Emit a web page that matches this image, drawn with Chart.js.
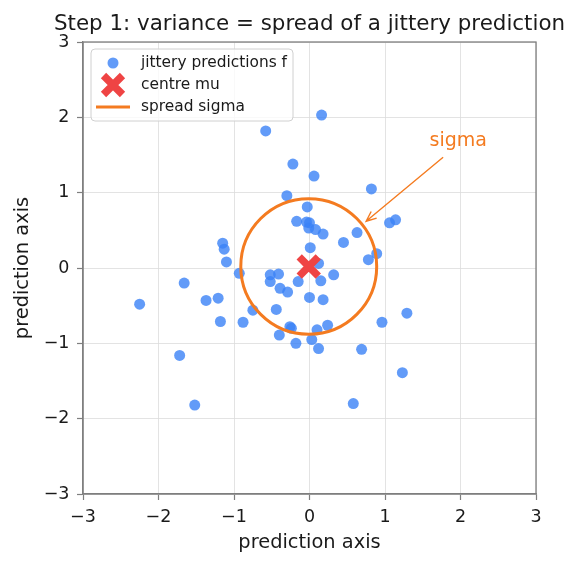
<!DOCTYPE html>
<html>
<head>
<meta charset="utf-8">
<script src="https://cdn.jsdelivr.net/npm/chart.js@4/dist/chart.umd.min.js"></script>
<style>
  html, body { margin: 0; padding: 0; background: #fff; }
  #wrap { width: 578px; height: 567px; }
</style>
</head>
<body>
<div id="wrap"><canvas id="chart" width="578" height="567"></canvas></div>
<script>
// jittery predictions
const predX = [0.16, -0.58, -0.22, 0.06, 0.82, -0.30, -0.03, -0.17, -0.04, 0.00,
  -0.01, 0.08, 0.18, 0.63, 0.45, 1.06, 1.14, 0.89, 0.78, 0.01,
  -1.15, -1.13, -1.10, -0.93, -0.52, -0.41, -0.52, -0.15, 0.12, 0.15,
  0.32, -1.66, -2.25, -1.37, -1.21, -0.75, -0.44, -0.39, -0.29, 0.00,
  0.18, -1.18, -0.88, -0.26, -0.24, -0.40, -0.18, 0.03, 0.10, 0.24,
  0.12, 0.69, 0.96, 1.29, 1.23, 0.58, -1.72, -1.52];
const predY = [2.03, 1.82, 1.38, 1.22, 1.05, 0.96, 0.81, 0.62, 0.61, 0.60,
  0.53, 0.51, 0.45, 0.47, 0.34, 0.60, 0.64, 0.19, 0.11, 0.27,
  0.33, 0.25, 0.08, -0.07, -0.09, -0.08, -0.18, -0.18, 0.06, -0.17,
  -0.09, -0.20, -0.48, -0.43, -0.40, -0.56, -0.55, -0.27, -0.32, -0.39,
  -0.42, -0.71, -0.72, -0.78, -0.80, -0.89, -1.00, -0.95, -0.82, -0.76,
  -1.07, -1.08, -0.72, -0.60, -1.39, -1.80, -1.16, -1.82];
const centreMu = [-0.01, 0.02];
const spreadSigma = 0.9;
const tickValues = [-3, -2, -1, 0, 1, 2, 3];
const titleText = "Step 1: variance = spread of a jittery prediction";
const sigmaText = "sigma";
const sigmaTextAt = [1.97, 1.68];
const sigmaArrowFrom = [1.77, 1.47];
const sigmaArrowTo = [0.75, 0.62];

const BLUE = "rgba(59,130,246,0.8)";
const RED = "#ef4444";
const ORANGE = "#f47b20";
const SPINE = "#7f7f7f";
const INK = "#1a1a1a";

Chart.defaults.font.family = "'DejaVu Sans', sans-serif";
Chart.defaults.color = INK;

const fmt = v => (v < 0 ? "\u2212" + Math.abs(v) : "" + v);

// ellipse for sigma, drawn just after the points
function drawSpread(chart) {
  const { ctx, scales: { x, y } } = chart;
  const cx = x.getPixelForValue(centreMu[0]);
  const cy = y.getPixelForValue(centreMu[1]);
  const rx = x.getPixelForValue(centreMu[0] + spreadSigma) - cx;
  const ry = cy - y.getPixelForValue(centreMu[1] + spreadSigma);
  ctx.save();
  ctx.beginPath();
  ctx.ellipse(cx, cy, rx, ry, 0, 0, Math.PI * 2);
  ctx.strokeStyle = ORANGE;
  ctx.lineWidth = 3;
  ctx.stroke();
  ctx.restore();
}

const spreadPlugin = {
  id: "spread",
  afterDatasetDraw(chart, args) {
    if (args.index === 0) drawSpread(chart);
  }
};

// box spines + title centred over the axes (chart.js title would squeeze it)
const framePlugin = {
  id: "frame",
  beforeDatasetsDraw(chart) {
    const { ctx, chartArea: a } = chart;
    ctx.save();
    ctx.strokeStyle = SPINE;
    ctx.lineWidth = 1.3;
    ctx.strokeRect(a.left, a.top, a.right - a.left, a.bottom - a.top);
    ctx.fillStyle = INK;
    ctx.font = "21.4px 'DejaVu Sans'";
    ctx.textAlign = "center";
    ctx.textBaseline = "alphabetic";
    ctx.fillText(titleText, (a.left + a.right) / 2, a.top - 12);
    ctx.restore();
  }
};

const notePlugin = {
  id: "note",
  afterDraw(chart) {
    const { ctx, scales: { x, y } } = chart;
    const x0 = x.getPixelForValue(sigmaArrowFrom[0]), y0 = y.getPixelForValue(sigmaArrowFrom[1]);
    const x1 = x.getPixelForValue(sigmaArrowTo[0]), y1 = y.getPixelForValue(sigmaArrowTo[1]);
    const ang = Math.atan2(y1 - y0, x1 - x0);
    ctx.save();
    ctx.strokeStyle = ORANGE;
    ctx.lineWidth = 1.4;
    ctx.beginPath();
    ctx.moveTo(x0, y0);
    ctx.lineTo(x1, y1);
    ctx.moveTo(x1 - 11 * Math.cos(ang - 0.4), y1 - 11 * Math.sin(ang - 0.4));
    ctx.lineTo(x1, y1);
    ctx.lineTo(x1 - 11 * Math.cos(ang + 0.4), y1 - 11 * Math.sin(ang + 0.4));
    ctx.stroke();
    ctx.fillStyle = ORANGE;
    ctx.font = "19px 'DejaVu Sans'";
    ctx.textAlign = "center";
    ctx.textBaseline = "middle";
    ctx.fillText(sigmaText, x.getPixelForValue(sigmaTextAt[0]), y.getPixelForValue(sigmaTextAt[1]));
    ctx.restore();
  }
};

// matplotlib-like legend inside the axes
const legendPlugin = {
  id: "legendBox",
  afterDraw(chart) {
    const { ctx, chartArea: a } = chart;
    const ds = chart.data.datasets;
    const bx = a.left + 8, by = a.top + 7, bw = 202, bh = 72;
    ctx.save();
    ctx.beginPath();
    ctx.roundRect(bx, by, bw, bh, 4);
    ctx.fillStyle = "rgba(255,255,255,0.8)";
    ctx.fill();
    ctx.strokeStyle = "#d0d0d0";
    ctx.lineWidth = 1;
    ctx.stroke();
    ctx.font = "15.4px 'DejaVu Sans'";
    ctx.textBaseline = "middle";
    const mx = bx + 22, tx = bx + 50;
    let ry = by + 14;
    // points
    ctx.beginPath();
    ctx.arc(mx, ry, 5.5, 0, Math.PI * 2);
    ctx.fillStyle = BLUE;
    ctx.fill();
    ctx.fillStyle = INK;
    ctx.fillText(ds[0].label, tx, ry);
    // centre
    ry += 22;
    ctx.strokeStyle = RED;
    ctx.lineWidth = 7.5;
    ctx.beginPath();
    ctx.moveTo(mx - 9.5, ry - 9.5); ctx.lineTo(mx + 9.5, ry + 9.5);
    ctx.moveTo(mx + 9.5, ry - 9.5); ctx.lineTo(mx - 9.5, ry + 9.5);
    ctx.stroke();
    ctx.fillText(ds[1].label, tx, ry);
    // spread
    ry += 22;
    ctx.strokeStyle = ORANGE;
    ctx.lineWidth = 3;
    ctx.beginPath();
    ctx.moveTo(mx - 17, ry); ctx.lineTo(mx + 17, ry);
    ctx.stroke();
    ctx.fillText(ds[2].label, tx, ry);
    ctx.restore();
  }
};

const points = predX.map((v, i) => ({ x: v, y: predY[i] }));

new Chart(document.getElementById("chart"), {
  type: "scatter",
  data: {
    datasets: [
      {
        label: "jittery predictions f",
        data: points,
        backgroundColor: BLUE,
        borderColor: BLUE,
        borderWidth: 0,
        pointRadius: 5.5,
        order: 2,
      },
      {
        label: "centre mu",
        data: [{ x: centreMu[0], y: centreMu[1] }],
        pointStyle: "crossRot",
        borderColor: RED,
        backgroundColor: RED,
        borderWidth: 7.5,
        pointRadius: 13.5,
        order: 0,
      },
      {
        type: "line",
        label: "spread sigma",
        data: [],
        borderColor: ORANGE,
        borderWidth: 3,
        order: 1,
      },
    ],
  },
  options: {
    responsive: false,
    animation: false,
    events: [],
    layout: { padding: { left: 0, right: 42, top: 42, bottom: 0 } },
    plugins: {
      legend: { display: false },
      tooltip: { enabled: false },
      title: { display: false },
    },
    scales: {
      x: {
        type: "linear",
        min: -3, max: 3,
        afterBuildTicks: s => { s.ticks = tickValues.map(v => ({ value: v })); },
        afterFit: s => { s.height = 73; },
        ticks: { callback: fmt, font: { size: 17.5 }, color: INK, padding: 6.5, maxRotation: 0 },
        grid: { color: "#dcdcdc", lineWidth: 0.8, tickLength: 6, tickColor: SPINE, tickWidth: 1.2 },
        border: { color: SPINE, width: 1.3 },
        title: { display: true, text: "prediction axis", font: { size: 19.4 }, color: INK, padding: { top: 2, bottom: 12 } },
      },
      y: {
        type: "linear",
        min: -3, max: 3,
        afterBuildTicks: s => { s.ticks = tickValues.map(v => ({ value: v })); },
        afterFit: s => { s.width = 83; },
        ticks: { callback: fmt, font: { size: 17.5 }, color: INK, padding: 7.5 },
        grid: { color: "#dcdcdc", lineWidth: 0.8, tickLength: 6, tickColor: SPINE, tickWidth: 1.2 },
        border: { color: SPINE, width: 1.3 },
        title: { display: true, text: "prediction axis", font: { size: 19.4 }, color: INK, padding: { top: 11.5, bottom: 2 } },
      },
    },
  },
  plugins: [framePlugin, spreadPlugin, notePlugin, legendPlugin],
});
</script>
</body>
</html>
